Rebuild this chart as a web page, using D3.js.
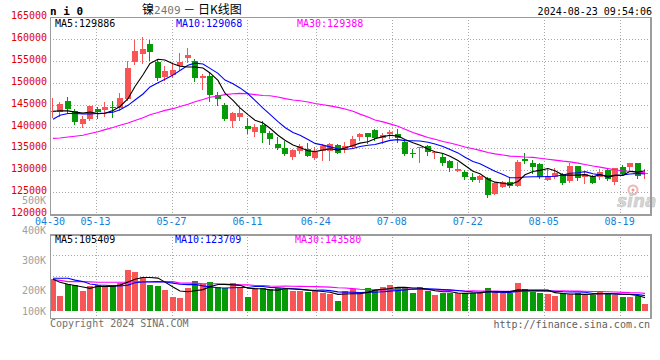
<!DOCTYPE html>
<html><head><meta charset="utf-8">
<script src="https://cdn.jsdelivr.net/npm/d3@7"></script>
<style>body{margin:0;background:#fff}svg{display:block}</style>
</head><body><svg id="c" width="660" height="360"></svg>
<script>
const dates = ["04-30","05-06","05-07","05-08","05-09","05-10","05-13","05-14","05-15","05-16","05-17","05-20","05-21","05-22","05-23","05-24","05-27","05-28","05-29","05-30","05-31","06-03","06-04","06-05","06-06","06-07","06-11","06-12","06-13","06-14","06-17","06-18","06-19","06-20","06-21","06-24","06-25","06-26","06-27","06-28","07-01","07-02","07-03","07-04","07-05","07-08","07-09","07-10","07-11","07-12","07-15","07-16","07-17","07-18","07-19","07-22","07-23","07-24","07-25","07-26","07-29","07-30","07-31","08-01","08-02","08-05","08-06","08-07","08-08","08-09","08-12","08-13","08-14","08-15","08-16","08-19","08-20","08-21","08-22","08-23"];
const dateTicks = ["04-30","05-13","05-27","06-11","06-24","07-08","07-22","08-05","08-19"];
const open  = [143300,143400,145850,143550,140500,141640,144010,143700,144400,144160,146300,154720,156560,158930,154870,151430,151810,153880,155640,155030,151040,151600,147300,144940,141350,142260,140130,138830,140360,138460,136020,135100,132970,134340,134950,132810,134490,134490,135790,134800,135400,137550,138460,139220,137460,138230,138300,136540,134030,135030,135560,133880,133110,132200,129840,129680,128530,127780,128170,124650,126250,127250,126480,132580,131740,131440,127780,128530,129080,127550,130980,128530,128690,128400,130070,127390,130820,130680,131600,129200];
const high  = [146500,145700,146840,144090,142400,144700,144550,145700,145850,147610,154900,159850,160600,159850,155260,153880,154260,156940,157930,155410,152030,152560,147980,145330,143270,144410,141900,140590,141280,138990,137550,136770,134800,136020,136310,135260,136020,136310,136020,136400,137850,138460,138600,139380,138460,139220,139380,136930,134800,135260,135790,134480,133660,132350,131970,130070,129310,128920,128530,127300,127620,128170,132350,133880,132350,131740,130450,130450,129310,131600,130980,129910,128920,130220,130220,130600,131210,131740,131740,130220];
const low   = [142100,142400,143170,140490,139960,141500,141870,142400,142250,143780,146100,154340,154500,155260,150670,150670,151430,153120,154870,150510,148600,145920,144940,141500,139980,141500,138460,137850,136540,136020,134800,133430,132510,134030,133270,132510,132350,132350,133880,134250,135170,136930,136180,136930,136180,137320,136400,133500,133110,131970,133500,132880,131210,129840,129840,128010,127550,127390,123960,124580,126110,126250,126480,131740,129310,128310,127780,128170,126800,127390,127780,127160,127020,127940,127780,126860,128920,130220,128170,128170];
const close = [143500,145160,144000,141100,141800,144620,143320,144390,144250,146460,153500,157320,157780,157170,151200,152730,152960,154870,156400,151200,151650,147230,146310,141740,143040,143040,139520,139970,138460,137090,135100,133730,134640,135560,133270,134190,135560,136020,134030,135630,137160,138230,137550,137460,138070,138690,137320,133660,133730,135260,134250,134250,131740,130600,130300,128530,127780,128760,124350,127000,127250,126480,131970,132130,130820,128530,128530,129450,127160,130980,128310,129080,127160,129540,127940,130450,129080,131740,128690,129470];
const volume = [235600,181000,219000,216700,197800,213000,216700,213000,216700,222000,266700,260000,242000,216700,213000,200000,177800,174400,205600,230000,219000,225600,211000,207800,222000,211000,176700,205600,205600,203000,207800,203000,197800,197800,192000,197800,189000,185600,163000,196700,203000,191000,206700,200000,210000,216700,210000,206700,190000,210000,196700,183000,191000,189000,191000,189000,189000,194000,206700,194000,189000,189000,223000,203000,194000,191000,186700,181000,189000,185600,189000,183000,183000,196700,189000,183000,177800,177800,180000,153000];
// moving-average values before enough in-window history exists
const ma5Lead  = [143500,143600,143600,143300];
const ma10Lead = [141700,142600,143000,143000,142900,142900,143000,143100,143300];
const ma30Lead = [137300,137400,137600,137800,138000,138400,138800,139300,139800,140300,140800,141400,142000,142700,143200,143700,144100,144600,145100,145700,146200,146700,147000,147300,147500,147600,147500,147300,147100];
const vma5Lead  = [235600,226000,219000,215000];
const vma10Lead = [239000,239000,239000,233000,228000,220000,216700,215600,214400];
const vma30Lead = [235000,232000,228000,228000,228000,227000,226000,226000,226000,226000,226000,228000,228000,228000,228000,228000,228000,223000,223000,223000,221000,221000,221000,219000,219000,217000,217000,215000,215000];
const priceTicks = [120000,125000,130000,135000,140000,145000,150000,155000,160000,165000];
const volTicks = [500000,400000,300000,200000,100000];
const volTickLabels = ["500K","400K","300K","200K","100K"];
const priceLegend = ["MA5:129886","MA10:129068","MA30:129388"];
const volLegend = ["MA5:105409","MA10:123709","MA30:143580"];
const maColors = ["#000000","#0000ff","#ff00ff"];

function movingAvg(arr, n, lead){
  return arr.map((_, i) => i < lead.length ? lead[i] : d3.mean(arr.slice(i - n + 1, i + 1)));
}

const svg = d3.select("#c");
const L = 50, R = 650, T = 17, B = 214, VT = 234, VB = 318, VBASE = 311;
const mono = "'DejaVu Sans Mono', monospace";
const RED = "#f85656", GREEN = "#079a07";

const idx = d3.range(dates.length);
const xB = d3.scaleBand().domain(idx).range([49, 649]).paddingInner(0.2).paddingOuter(0.1);
const xG = d3.scalePoint().domain(dates).range([L, R]);
const y = d3.scaleLinear().domain([120000, 165000]).range([B, T + 0.3]);
const yV = d3.scaleLinear().domain([100000, 400000]).range([320, 230]);
const cx = i => Math.round(xB(i));

// ---- gridlines ----
const grid = svg.append("g").attr("stroke", "#a8a8a8").attr("stroke-dasharray", "1,2").attr("shape-rendering", "crispEdges");
priceTicks.filter(v => v > 120000 && v < 165000).forEach(v => {
  const yy = Math.round(y(v)) + 0.5;
  grid.append("line").attr("x1", L).attr("x2", R).attr("y1", yy).attr("y2", yy);
});
dateTicks.slice(1).forEach(d => {
  const xx = Math.round(xG(d)) + 0.5;
  grid.append("line").attr("x1", xx).attr("x2", xx).attr("y1", T).attr("y2", B);
  grid.append("line").attr("x1", xx).attr("x2", xx).attr("y1", VT).attr("y2", VB);
});
[1, 2].forEach(k => {
  const yy = Math.round(VT + (VB - VT) * k / 4) + 0.5;
  grid.append("line").attr("x1", L).attr("x2", R).attr("y1", yy).attr("y2", yy);
});

// ---- candles ----
const cg = svg.append("g").attr("shape-rendering", "crispEdges");
idx.forEach(i => {
  const up = close[i] >= open[i];
  const col = up ? RED : GREEN;
  const x0 = cx(i);
  cg.append("line").attr("x1", x0 + 2.5).attr("x2", x0 + 2.5)
    .attr("y1", Math.round(y(high[i]))).attr("y2", Math.round(y(low[i])) + 1)
    .attr("stroke", col).attr("stroke-width", 1);
  const top = Math.round(y(Math.max(open[i], close[i])));
  const bot = Math.round(y(Math.min(open[i], close[i])));
  cg.append("rect").attr("x", x0).attr("y", top).attr("width", 6).attr("height", Math.max(1, bot - top))
    .attr("fill", col);
});

// ---- volume bars ----
const vg = svg.append("g").attr("shape-rendering", "crispEdges");
idx.forEach(i => {
  const up = close[i] >= open[i];
  const top = Math.round(yV(volume[i]));
  vg.append("rect").attr("x", cx(i)).attr("y", top).attr("width", 6).attr("height", VBASE - top)
    .attr("fill", up ? RED : GREEN);
});

// ---- MA lines ----
const pMA = [movingAvg(close, 5, ma5Lead), movingAvg(close, 10, ma10Lead), movingAvg(close, 30, ma30Lead)];
const vMA = [movingAvg(volume, 5, vma5Lead), movingAvg(volume, 10, vma10Lead), movingAvg(volume, 30, vma30Lead)];
const lineP = d3.line().x((d, i) => cx(i) + 3).y(d => y(d));
const lineV = d3.line().x((d, i) => cx(i) + 3).y(d => yV(d));
[2, 1, 0].forEach(k => {
  svg.append("path").attr("d", lineP(pMA[k])).attr("fill", "none").attr("stroke", maColors[k]).attr("stroke-width", 1.1);
  svg.append("path").attr("d", lineV(vMA[k])).attr("fill", "none").attr("stroke", maColors[k]).attr("stroke-width", 1.1);
});

// ---- sina watermark ----
const wm = svg.append("g");
wm.append("circle").attr("cx", 633).attr("cy", 190).attr("r", 4.5).attr("fill", "none").attr("stroke", "#f0b4b4").attr("stroke-width", 2);
wm.append("circle").attr("cx", 633).attr("cy", 190).attr("r", 1.5).attr("fill", "#e89a9a");
wm.append("text").attr("x", 617).attr("y", 207).text("sina")
  .attr("font-family", "'DejaVu Sans', sans-serif").attr("font-weight", "bold").attr("font-style", "italic")
  .attr("font-size", 17).attr("fill", "#d4d4d4").attr("stroke", "#bdbdbd").attr("stroke-width", 0.4);

// ---- borders ----
const bd = svg.append("g").attr("fill", "none").attr("stroke", "#9c9c9c").attr("shape-rendering", "crispEdges");
bd.append("rect").attr("x", L + 0.5).attr("y", T + 0.5).attr("width", R - L).attr("height", B - T);
bd.append("rect").attr("x", L + 0.5).attr("y", VT + 0.5).attr("width", R - L).attr("height", VB - VT);
bd.append("line").attr("x1", L).attr("x2", R + 1).attr("y1", B + 1.5).attr("y2", B + 1.5);
bd.append("line").attr("x1", R + 1.5).attr("x2", R + 1.5).attr("y1", T).attr("y2", B + 2);
bd.append("line").attr("x1", L).attr("x2", R + 1).attr("y1", VT + 1.5).attr("y2", VT + 1.5);
bd.append("line").attr("x1", R + 1.5).attr("x2", R + 1.5).attr("y1", VT).attr("y2", VB + 1);

// ---- axis labels ----
const tx = svg.append("g").attr("font-family", mono).attr("font-size", 10);
priceTicks.forEach(v => {
  tx.append("text").attr("x", 47).attr("y", y(v) + 2).attr("text-anchor", "end").attr("fill", "#e00000").text(d3.format("d")(v));
});
volTicks.forEach((v, k) => {
  tx.append("text").attr("x", 46).attr("y", Math.min(yV(v), VBASE) + 3.8).attr("text-anchor", "end").attr("fill", "#a0a0a0").text(volTickLabels[k]);
});
dateTicks.forEach(d => {
  tx.append("text").attr("x", xG(d)).attr("y", 224.5).attr("text-anchor", "middle").attr("fill", "#1580d8").text(d);
});

// ---- legends ----
const legX = [55, 176, 297];
priceLegend.forEach((t, k) => tx.append("text").attr("x", legX[k]).attr("y", 26.5).attr("fill", maColors[k]).text(t));
volLegend.forEach((t, k) => tx.append("text").attr("x", [55, 175, 295][k]).attr("y", 242.5).attr("fill", maColors[k]).text(t));

// ---- header ----
svg.append("text").attr("x", 50).attr("y", 15).attr("font-family", mono).attr("font-weight", "bold").attr("font-size", 11).attr("fill", "#000").text("n i 0");
const title = svg.append("text").attr("x", 142).attr("y", 14).attr("font-family", "'Noto Sans CJK SC', sans-serif").attr("font-size", 12).attr("fill", "#000");
title.append("tspan").text("镍");
title.append("tspan").attr("fill", "#777").attr("font-family", mono).attr("font-size", 11).text("2409");
title.append("tspan").text(" － 日K线图");
svg.append("text").attr("x", 652).attr("y", 14.5).attr("text-anchor", "end").attr("font-family", mono).attr("font-size", 10).attr("fill", "#000").text("2024-08-23 09:54:06");

// ---- footer ----
svg.append("text").attr("x", 50).attr("y", 327).attr("font-family", mono).attr("font-size", 10).attr("fill", "#707070").text("Copyright 2024 SINA.COM");
svg.append("text").attr("x", 650).attr("y", 328).attr("text-anchor", "end").attr("font-family", mono).attr("font-size", 10).attr("fill", "#606060").text("http://finance.sina.com.cn");
</script>
</body></html>
